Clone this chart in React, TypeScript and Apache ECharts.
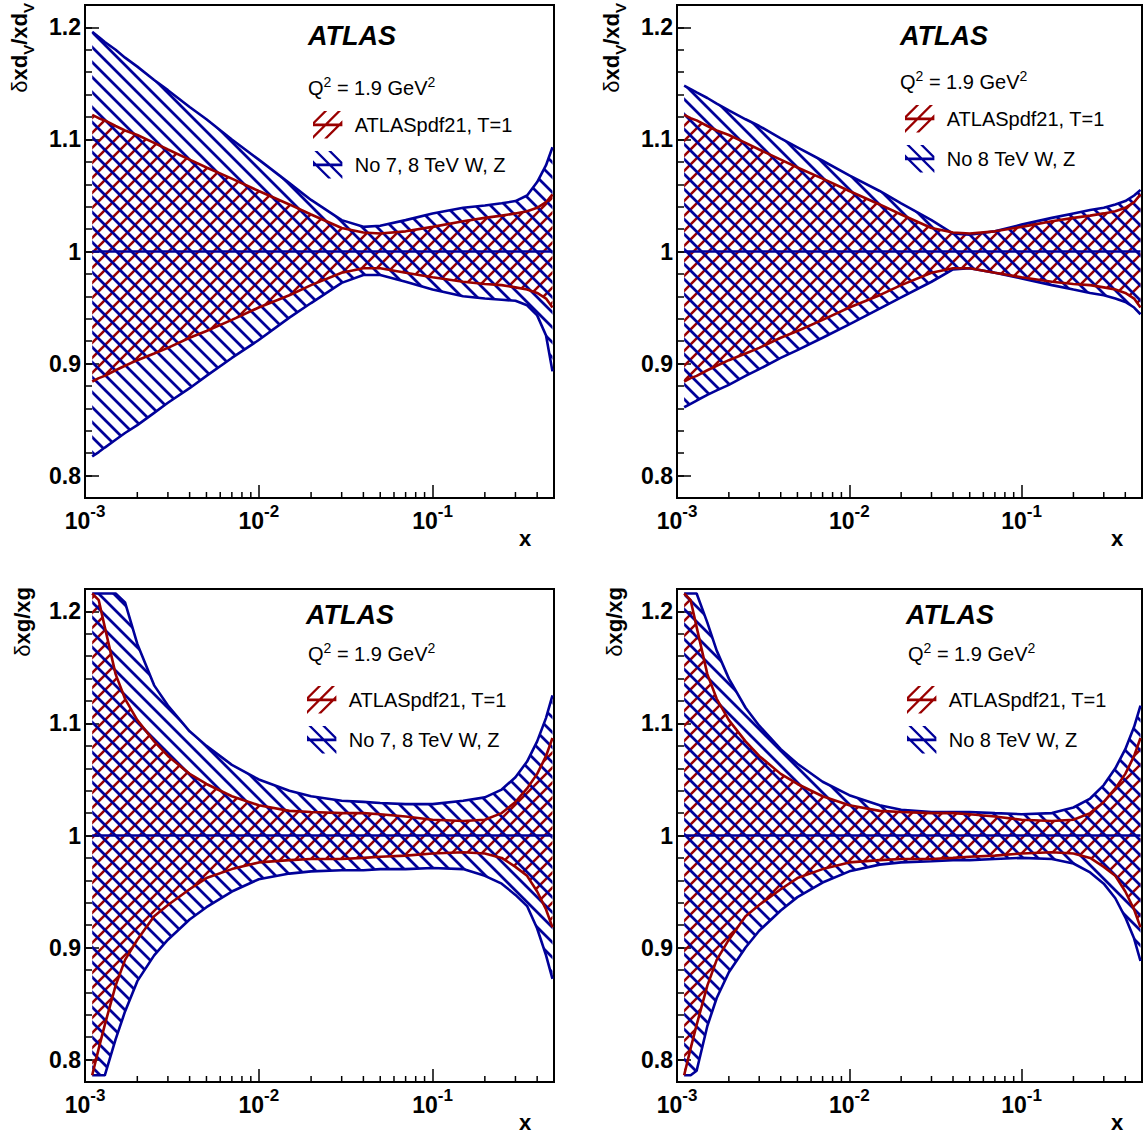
import React, { useEffect, useRef } from 'react';
import * as echarts from 'echarts';

// ---------------- data ----------------
const xGrid = [0.0011, 0.0012, 0.0013, 0.0015, 0.0017, 0.002, 0.0025, 0.003, 0.004, 0.005, 0.007, 0.01, 0.015, 0.02, 0.03, 0.04, 0.05, 0.07, 0.1, 0.15, 0.2, 0.25, 0.3, 0.35, 0.4, 0.45, 0.49];

// d_v valence, ATLASpdf21 T=1
const dvRedUp = [1.122, 1.119, 1.117, 1.112, 1.108, 1.104, 1.097, 1.091, 1.082, 1.075, 1.065, 1.054, 1.042, 1.033, 1.021, 1.017, 1.016, 1.018, 1.022, 1.027, 1.030, 1.032, 1.034, 1.036, 1.039, 1.044, 1.051];
const dvRedLo = [0.884, 0.887, 0.889, 0.894, 0.898, 0.903, 0.909, 0.914, 0.923, 0.929, 0.939, 0.950, 0.961, 0.970, 0.981, 0.985, 0.985, 0.981, 0.977, 0.973, 0.971, 0.970, 0.968, 0.966, 0.963, 0.958, 0.950];
// d_v valence, No 7, 8 TeV W, Z
const dvNo78Up = [1.196, 1.1915, 1.187, 1.180, 1.173, 1.165, 1.153, 1.144, 1.129, 1.118, 1.100, 1.082, 1.061, 1.046, 1.028, 1.022, 1.023, 1.028, 1.034, 1.039, 1.041, 1.043, 1.045, 1.050, 1.062, 1.077, 1.093];
const dvNo78Lo = [0.817, 0.821, 0.825, 0.832, 0.838, 0.845, 0.856, 0.865, 0.878, 0.889, 0.905, 0.921, 0.941, 0.954, 0.972, 0.979, 0.979, 0.973, 0.966, 0.960, 0.958, 0.957, 0.956, 0.952, 0.943, 0.925, 0.893];
// d_v valence, No 8 TeV W, Z
const dvNo8Up = [1.148, 1.145, 1.142, 1.137, 1.132, 1.126, 1.118, 1.112, 1.101, 1.093, 1.081, 1.068, 1.054, 1.043, 1.028, 1.016, 1.015, 1.018, 1.024, 1.030, 1.034, 1.037, 1.039, 1.042, 1.045, 1.050, 1.055];
const dvNo8Lo = [0.861, 0.864, 0.867, 0.872, 0.876, 0.881, 0.889, 0.895, 0.905, 0.912, 0.923, 0.935, 0.949, 0.959, 0.973, 0.984, 0.985, 0.981, 0.976, 0.970, 0.966, 0.963, 0.961, 0.958, 0.955, 0.950, 0.944];

// gluon, ATLASpdf21 T=1
const gRedUp = [1.216, 1.210, 1.186, 1.144, 1.122, 1.103, 1.084, 1.071, 1.055, 1.046, 1.035, 1.027, 1.022, 1.021, 1.020, 1.020, 1.019, 1.017, 1.014, 1.013, 1.014, 1.020, 1.030, 1.042, 1.055, 1.071, 1.087];
const gRedLo = [0.786, 0.810, 0.831, 0.866, 0.889, 0.907, 0.928, 0.938, 0.952, 0.962, 0.970, 0.976, 0.978, 0.979, 0.979, 0.980, 0.981, 0.982, 0.984, 0.985, 0.984, 0.980, 0.972, 0.964, 0.950, 0.934, 0.918];
// gluon, No 7, 8 TeV W, Z
const gNo78Up = [1.216, 1.216, 1.216, 1.216, 1.208, 1.171, 1.134, 1.116, 1.093, 1.080, 1.063, 1.050, 1.040, 1.035, 1.031, 1.030, 1.029, 1.028, 1.028, 1.031, 1.034, 1.041, 1.052, 1.066, 1.084, 1.105, 1.125];
const gNo78Lo = [0.786, 0.786, 0.786, 0.818, 0.843, 0.870, 0.893, 0.907, 0.925, 0.936, 0.950, 0.961, 0.966, 0.968, 0.969, 0.969, 0.970, 0.970, 0.971, 0.970, 0.964, 0.957, 0.947, 0.937, 0.917, 0.893, 0.872];
// gluon, No 8 TeV W, Z
const gNo8Up = [1.216, 1.216, 1.216, 1.190, 1.165, 1.140, 1.114, 1.098, 1.077, 1.064, 1.048, 1.036, 1.027, 1.023, 1.021, 1.021, 1.021, 1.020, 1.019, 1.020, 1.025, 1.033, 1.045, 1.060, 1.077, 1.097, 1.116];
const gNo8Lo = [0.786, 0.786, 0.790, 0.830, 0.855, 0.878, 0.900, 0.915, 0.933, 0.945, 0.958, 0.968, 0.974, 0.976, 0.977, 0.978, 0.978, 0.979, 0.980, 0.979, 0.975, 0.967, 0.957, 0.944, 0.927, 0.908, 0.888];

const centralValue = 1;
const xMinorTicks = [0.002, 0.003, 0.004, 0.005, 0.006, 0.007, 0.008, 0.009, 0.02, 0.03, 0.04, 0.05, 0.06, 0.07, 0.08, 0.09, 0.2, 0.3, 0.4];

const X_MIN = 0.001;
const X_MAX = 0.5;
const Y_MIN = 0.78;
const Y_MAX = 1.22;
const Y_LABEL_MIN = 0.8;
const Y_LABEL_MAX = 1.2;

const RED_NAME = 'ATLASpdf21, T=1';
const Q2_TEXT = '{a|Q}{s|2}{a| = 1.9 GeV}{s|2}';

// ---------------- style ----------------
const RED = '#990000';
const BLUE = '#000099';
const FONT = "'Liberation Sans', Arial, Helvetica, sans-serif";
const GW = 469;
const GH = 493;
const PX_PER_UNIT = GH / (Y_MAX - Y_MIN);

function hatchPattern(color: string, dir: string, width: number) {
  const s = 15;
  const d = dir === '/'
    ? `M-3,3 L3,-3 M0,${s} L${s},0 M${s - 3},${s + 3} L${s + 3},${s - 3}`
    : `M-3,${s - 3} L3,${s + 3} M0,0 L${s},${s} M${s - 3},-3 L${s + 3},3`;
  const svg = `<svg xmlns="http://www.w3.org/2000/svg" width="${s}" height="${s}"><path d="${d}" stroke="${color}" stroke-width="${width}" fill="none"/></svg>`;
  return {
    image: 'data:image/svg+xml;charset=utf-8,' + encodeURIComponent(svg),
    repeat: 'repeat',
    imageWidth: s,
    imageHeight: s,
  };
}

const RED_ICON = 'path://M0,13.5L32,13.5L32,16.5L0,16.5Z M0,12L12,0L15.5,0L0,15.5Z M0,27L27,0L30.5,0L0,30.5Z M12,30L32,10L32,13.5L15.5,30Z';
const BLUE_ICON = 'path://M0,13.5L32,13.5L32,16.5L0,16.5Z M32,15.5L16.5,0L20,0L32,12Z M32,30.5L1.5,0L5,0L32,27Z M16.5,30L0,13.5L0,10L20,30Z';

const panels = [
  { left: 85, top: 5, yTitle: 'dv', blueName: 'No 7, 8 TeV W, Z', red: [dvRedLo, dvRedUp], blue: [dvNo78Lo, dvNo78Up], atlas: [308, 36], q2: [308, 86], legend: [313, 111] },
  { left: 677, top: 5, yTitle: 'dv', blueName: 'No 8 TeV W, Z', red: [dvRedLo, dvRedUp], blue: [dvNo8Lo, dvNo8Up], atlas: [900, 36], q2: [900, 80], legend: [905, 105] },
  { left: 85, top: 589, yTitle: 'g', blueName: 'No 7, 8 TeV W, Z', red: [gRedLo, gRedUp], blue: [gNo78Lo, gNo78Up], atlas: [306, 615], q2: [308, 652], legend: [307, 686] },
  { left: 677, top: 589, yTitle: 'g', blueName: 'No 8 TeV W, Z', red: [gRedLo, gRedUp], blue: [gNo8Lo, gNo8Up], atlas: [906, 615], q2: [908, 652], legend: [907, 686] },
];

function bandRender(lo: number[], hi: number[], pattern: any) {
  return (params: any, api: any) => {
    if (params.dataIndex !== 0) return null;
    const pts: number[][] = [];
    for (let k = 0; k < xGrid.length; k++) pts.push(api.coord([xGrid[k], hi[k]]));
    for (let k = xGrid.length - 1; k >= 0; k--) pts.push(api.coord([xGrid[k], lo[k]]));
    return { type: 'polygon', shape: { points: pts }, style: { fill: pattern, stroke: null }, silent: true };
  };
}

function buildOption() {
  const redPattern = hatchPattern(RED, '/', 2.5);
  const bluePattern = hatchPattern(BLUE, '\\', 2.8);
  const grid: any[] = [];
  const xAxis: any[] = [];
  const yAxis: any[] = [];
  const series: any[] = [];
  const legend: any[] = [];
  const graphic: any[] = [];
  const n = panels.length;

  panels.forEach((p, i) => {
    grid[i] = { left: p.left, top: p.top, width: GW, height: GH, show: true, borderColor: '#000', borderWidth: 2, backgroundColor: 'transparent' };
    grid[n + i] = {
      left: p.left,
      top: p.top + (Y_MAX - Y_LABEL_MAX) * PX_PER_UNIT,
      width: GW,
      height: (Y_LABEL_MAX - Y_LABEL_MIN) * PX_PER_UNIT,
      show: false,
    };
    xAxis[i] = {
      type: 'log', logBase: 10, gridIndex: i, min: X_MIN, max: X_MAX,
      axisLine: { show: false },
      splitLine: { show: false },
      axisTick: { show: true, inside: true, length: 13, lineStyle: { color: '#000', width: 1.5 } },
      axisLabel: {
        margin: 5,
        formatter: (v: number) => {
          const e = Math.log10(v);
          if (Math.abs(e - Math.round(e)) > 1e-6) return '';
          return `{b|10}{s|-${-Math.round(e)}}`;
        },
        rich: {
          b: { fontSize: 23, fontWeight: 'bold', fontFamily: FONT, color: '#000', verticalAlign: 'bottom' },
          s: { fontSize: 17, fontWeight: 'bold', fontFamily: FONT, color: '#000', verticalAlign: 'bottom', padding: [0, 0, 12, 0] },
        },
      },
    };
    xAxis[n + i] = { type: 'value', gridIndex: n + i, show: false, min: 0, max: 1 };
    yAxis[i] = {
      type: 'value', gridIndex: i, min: Y_MIN, max: Y_MAX, interval: 0.02,
      axisLine: { show: false },
      splitLine: { show: false },
      axisLabel: { show: false },
      axisTick: { show: true, inside: true, length: 7, lineStyle: { color: '#000', width: 1.5 } },
    };
    yAxis[n + i] = {
      type: 'value', gridIndex: n + i, min: Y_LABEL_MIN, max: Y_LABEL_MAX, interval: 0.1,
      axisLine: { show: false },
      splitLine: { show: false },
      axisTick: { show: true, inside: true, length: 14, lineStyle: { color: '#000', width: 1.5 } },
      axisLabel: { margin: 4, fontSize: 23, fontWeight: 'bold', fontFamily: FONT, color: '#000' },
    };

    const [rLo, rHi] = p.red;
    const [bLo, bHi] = p.blue;
    const bandData = (lo: number[], hi: number[]) => xGrid.map((x, k) => [x, lo[k], hi[k]]);
    const lineData = (arr: number[]) => xGrid.map((x, k) => [x, arr[k]]);
    const common = { xAxisIndex: i, yAxisIndex: i, silent: true, animation: false };

    series.push({ ...common, type: 'custom', name: RED_NAME, itemStyle: { color: RED }, data: bandData(rLo, rHi), encode: { x: 0, y: [1, 2] }, renderItem: bandRender(rLo, rHi, redPattern) });
    series.push({ ...common, type: 'custom', name: p.blueName, itemStyle: { color: BLUE }, data: bandData(bLo, bHi), encode: { x: 0, y: [1, 2] }, renderItem: bandRender(bLo, bHi, bluePattern) });
    const line = (name: string, arr: number[], color: string) => ({
      ...common, type: 'line', name, data: lineData(arr), showSymbol: false, symbol: 'none',
      lineStyle: { color, width: 2.6 }, itemStyle: { color },
    });
    series.push(line(p.blueName, bHi, BLUE));
    series.push(line(p.blueName, bLo, BLUE));
    series.push(line(RED_NAME, rHi, RED));
    series.push(line(RED_NAME, rLo, RED));
    series.push({
      ...common, type: 'line', name: 'central', data: [[xGrid[0], centralValue], [xGrid[xGrid.length - 1], centralValue]],
      showSymbol: false, symbol: 'none', lineStyle: { color: BLUE, width: 2.6 }, itemStyle: { color: BLUE },
    });
    series.push({
      ...common, type: 'custom', name: 'minor ticks', data: xMinorTicks.map((v) => [v, Y_MIN]), encode: { x: 0, y: 1 },
      renderItem: (params: any, api: any) => {
        const pt = api.coord([api.value(0), api.value(1)]);
        return { type: 'line', shape: { x1: pt[0], y1: pt[1], x2: pt[0], y2: pt[1] - 6 }, style: { stroke: '#000', lineWidth: 1.5 } };
      },
    });

    legend.push({
      orient: 'vertical', left: p.legend[0], top: p.legend[1], padding: 0,
      itemWidth: 32, itemHeight: 28, itemGap: 12, selectedMode: false,
      itemStyle: { borderWidth: 0 },
      textStyle: { fontSize: 20, fontFamily: FONT, color: '#000', padding: [0, 0, 0, 6] },
      data: [{ name: RED_NAME, icon: RED_ICON }, { name: p.blueName, icon: BLUE_ICON }],
    });

    graphic.push({
      type: 'text', x: p.atlas[0], y: p.atlas[1], silent: true,
      style: { text: 'ATLAS', fontSize: 27, fontWeight: 'bold', fontStyle: 'italic', fontFamily: FONT, fill: '#000', textAlign: 'left', textVerticalAlign: 'middle' },
    });
    graphic.push({
      type: 'text', x: p.q2[0], y: p.q2[1], silent: true,
      style: {
        text: Q2_TEXT, textAlign: 'left', textVerticalAlign: 'middle',
        rich: {
          a: { fontSize: 20, fontFamily: FONT, fill: '#000', verticalAlign: 'bottom' },
          s: { fontSize: 14, fontFamily: FONT, fill: '#000', verticalAlign: 'bottom', padding: [0, 0, 9, 0] },
        },
      },
    });
    const titleText = p.yTitle === 'dv' ? '{d|δ}{b|xd}{s|V}{b|/xd}{s|V}' : '{d|δ}{b|xg/xg}';
    graphic.push({
      type: 'text', x: p.left - 63, y: p.top - 2, rotation: Math.PI / 2, silent: true,
      style: {
        text: titleText, textAlign: 'right', textVerticalAlign: 'middle',
        rich: {
          d: { fontSize: 22, fontFamily: FONT, fill: '#000', verticalAlign: 'top' },
          b: { fontSize: 22, fontWeight: 'bold', fontFamily: FONT, fill: '#000', verticalAlign: 'top' },
          s: { fontSize: 15, fontWeight: 'bold', fontFamily: FONT, fill: '#000', verticalAlign: 'top', padding: [12, 0, 0, 0] },
        },
      },
    });
    graphic.push({
      type: 'text', x: p.left + 440, y: p.top + GH + 40, silent: true,
      style: { text: 'x', fontSize: 22, fontWeight: 'bold', fontFamily: FONT, fill: '#000', textAlign: 'center', textVerticalAlign: 'middle' },
    });
  });

  return { animation: false, backgroundColor: '#fff', grid, xAxis, yAxis, series, legend, graphic };
}

export default function App() {
  const ref = useRef<HTMLDivElement>(null);
  useEffect(() => {
    if (!ref.current) return;
    const chart = echarts.init(ref.current, null, { renderer: 'svg' });
    chart.setOption(buildOption() as any);
    return () => chart.dispose();
  }, []);
  return <div ref={ref} style={{ position: 'absolute', left: 0, top: 0, width: 1145, height: 1133 }} />;
}
